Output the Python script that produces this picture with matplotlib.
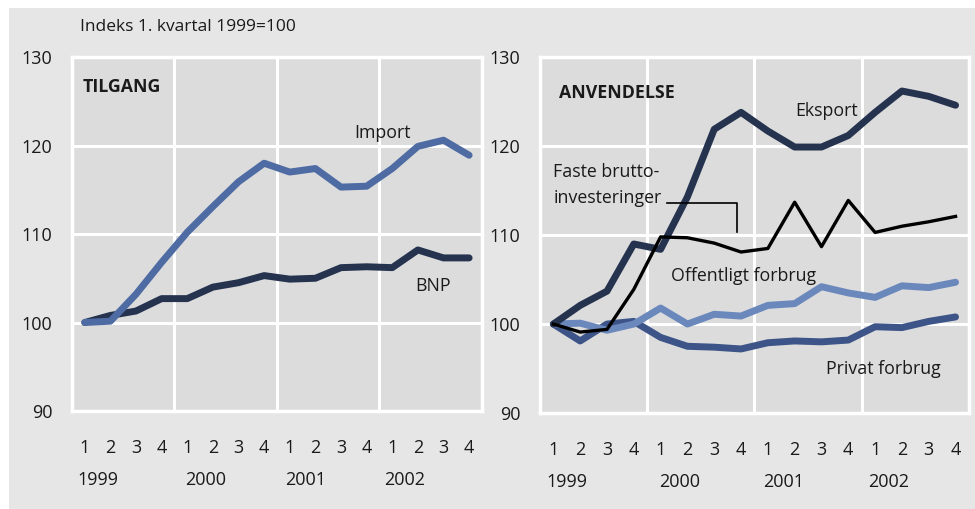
import numpy as np
import matplotlib
matplotlib.use("Agg")
import matplotlib.pyplot as plt
from matplotlib.patches import Rectangle
from matplotlib.transforms import blended_transform_factory

plt.rcParams['font.family'] = ['Open Sans', 'DejaVu Sans']

# Quarters 1999Q1 - 2002Q4
quarters = ['1', '2', '3', '4'] * 4
years = ['1999', '2000', '2001', '2002']
year_pos = [1.5, 5.7, 9.6, 13.5]

# TILGANG
import_vals = [100.0, 100.15, 103.2, 106.8, 110.2, 113.1, 115.9, 118.0,
               117.0, 117.4, 115.3, 115.4, 117.4, 119.9, 120.6, 118.9]
bnp_vals = [100.0, 100.8, 101.3, 102.7, 102.7, 104.0, 104.5, 105.3,
            104.9, 105.0, 106.2, 106.3, 106.2, 108.2, 107.3, 107.3]

# ANVENDELSE
eksport = [100.0, 102.1, 103.7, 109.0, 108.4, 114.3, 121.9, 123.8,
           121.7, 119.9, 119.9, 121.2, 123.8, 126.2, 125.6, 124.6]
faste = [100.0, 99.1, 99.4, 103.9, 109.8, 109.7, 109.1, 108.1,
         108.5, 113.7, 108.7, 113.9, 110.3, 111.0, 111.5, 112.1]
offentligt = [100.0, 100.1, 99.3, 100.0, 101.8, 100.0, 101.1, 100.9,
              102.1, 102.3, 104.2, 103.5, 103.0, 104.3, 104.1, 104.7]
privat = [100.0, 98.1, 100.0, 100.3, 98.5, 97.5, 97.4, 97.2,
          97.9, 98.1, 98.0, 98.2, 99.7, 99.6, 100.3, 100.8]

x = np.arange(1, 17)
FS = 12.8

fig = plt.figure(figsize=(9.75, 5.09), dpi=100)
fig.patch.set_facecolor('white')
fig.patches.append(Rectangle((9 / 975, 0), 1, 1 - 8 / 509, transform=fig.transFigure,
                             facecolor='#e6e6e6', edgecolor='none', zorder=-10))

ax1 = fig.add_axes([0.0738, 0.1925, 0.4205, 0.6955])
ax2 = fig.add_axes([0.5538, 0.1886, 0.44, 0.699])


def style_axes(ax):
    ax.set_facecolor('#dcdcdc')
    ax.set_xlim(0.5, 16.5)
    ax.set_ylim(90, 130)
    ax.set_yticks([90, 100, 110, 120, 130])
    ax.set_xticks(x)
    ax.set_xticklabels(quarters)
    for s in ax.spines.values():
        s.set_color('white')
        s.set_linewidth(2.5)
    ax.tick_params(length=0, labelsize=13, colors='#1a1a1a')
    ax.tick_params(axis='x', pad=20)
    ax.tick_params(axis='y', pad=14)
    for v in [100, 110, 120]:
        ax.axhline(v, color='white', lw=2.2, zorder=1)
    for v in [4.5, 8.5, 12.5]:
        ax.axvline(v, color='white', lw=2.2, zorder=1)
    tr = blended_transform_factory(ax.transData, ax.transAxes)
    for yp, yl in zip(year_pos, years):
        ax.text(yp, -0.195, yl, transform=tr, ha='center', va='center',
                fontsize=13, color='#1a1a1a')


style_axes(ax1)
style_axes(ax2)

ax1.plot(x, bnp_vals, color='#25334f', lw=5, solid_capstyle='round', zorder=3)
ax1.plot(x, import_vals, color='#4e6ca3', lw=5, solid_capstyle='round', zorder=4)
ax1.text(0.93, 126.6, 'TILGANG', fontsize=FS, fontweight='bold', va='center', color='#1a1a1a')
ax1.text(12.6, 121.4, 'Import', fontsize=FS, ha='center', va='center', color='#1a1a1a')
ax1.text(14.6, 104.1, 'BNP', fontsize=FS, ha='center', va='center', color='#1a1a1a')
fig.text(80 / 975, 1 - 27 / 509, 'Indeks 1. kvartal 1999=100', fontsize=12.5,
         va='center', color='#1a1a1a')

ax2.plot(x, privat, color='#3d5488', lw=5, solid_capstyle='round', zorder=3)
ax2.plot(x, offentligt, color='#6b88bd', lw=5, solid_capstyle='round', zorder=4)
ax2.plot(x, eksport, color='#25334f', lw=5, solid_capstyle='round', zorder=5)
ax2.plot(x, faste, color='black', lw=2.4, zorder=6)
ax2.plot([5.24, 7.85, 7.85], [113.6, 113.6, 110.3], color='black', lw=1.2, zorder=6)
ax2.text(1.2, 126.0, 'ANVENDELSE', fontsize=FS, fontweight='bold', va='center', color='#1a1a1a')
ax2.text(11.2, 124.0, 'Eksport', fontsize=FS, ha='center', va='center', color='#1a1a1a')
ax2.text(1.0, 115.6, 'Faste brutto-\ninvesteringer', fontsize=FS, ha='left', va='center',
         linespacing=1.55, color='#1a1a1a')
ax2.text(8.1, 105.4, 'Offentligt forbrug', fontsize=FS, ha='center', va='center', color='#1a1a1a')
ax2.text(13.3, 94.9, 'Privat forbrug', fontsize=FS, ha='center', va='center', color='#1a1a1a')

fig.savefig('out.png', dpi=100, facecolor=fig.get_facecolor())
